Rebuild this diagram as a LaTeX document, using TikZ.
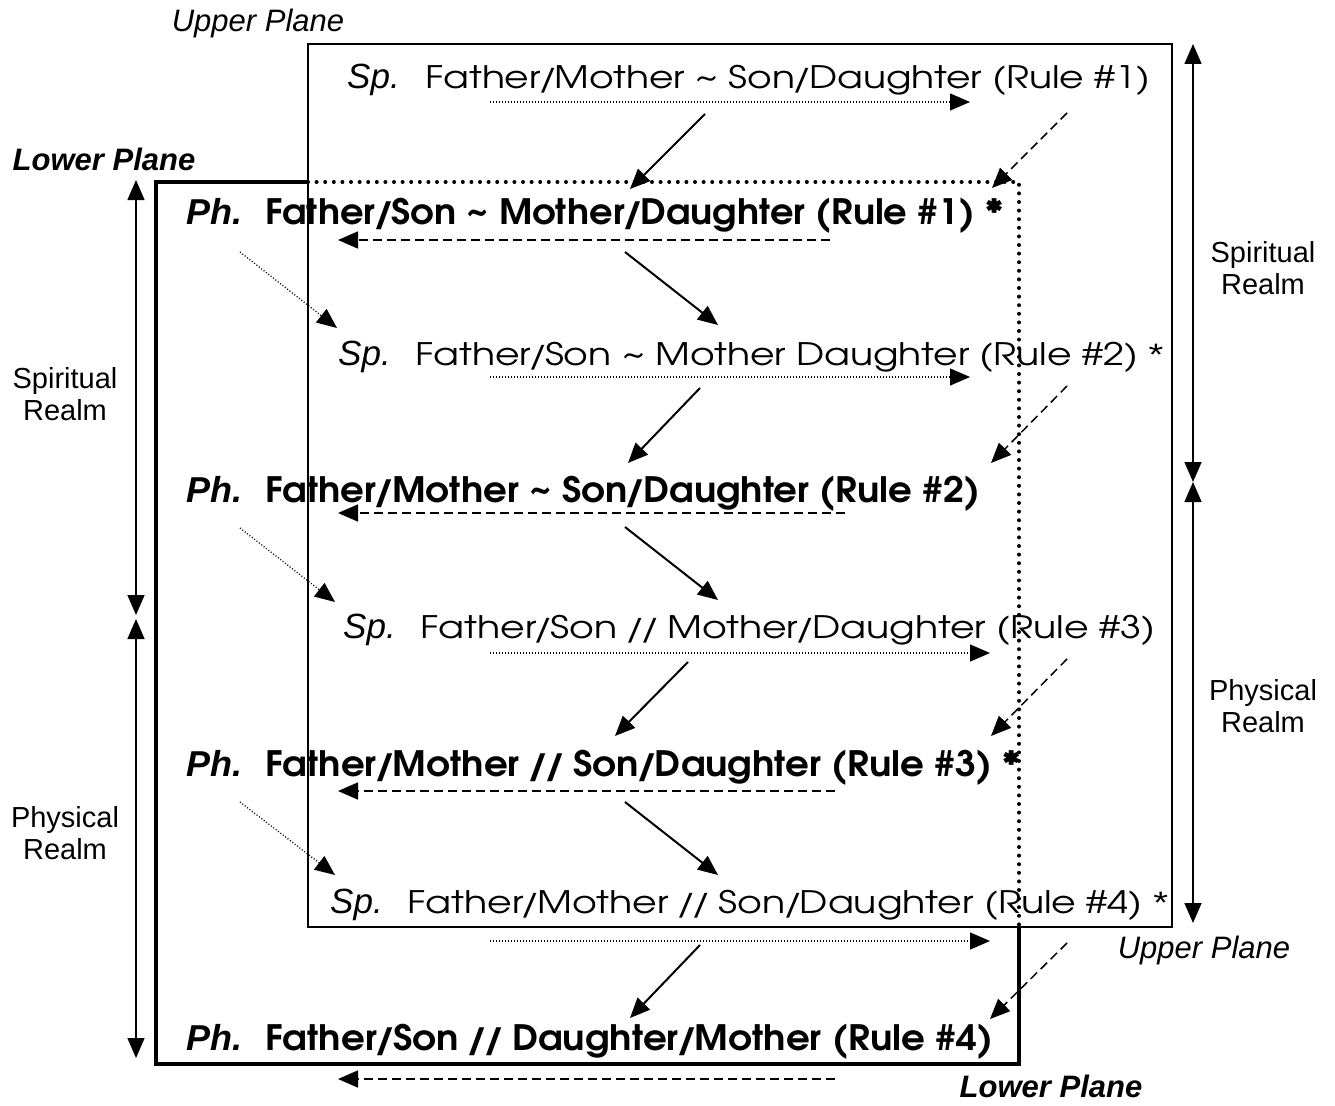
\documentclass[tikz,border=0pt]{standalone}
\usepackage{fontspec}
\usepackage{graphicx}
\setmainfont{Liberation Sans}
\newfontfamily\cgfont{texgyreadventor}[Extension=.otf,UprightFont=*-regular,BoldFont=*-bold,ItalicFont=*-italic,BoldItalicFont=*-bolditalic]
\newfontfamily\astfont{Liberation Sans}
\usetikzlibrary{arrows.meta}
\newcommand{\rowreg}[2]{\resizebox{#1}{\height}{\cgfont\fontsize{31}{36}\selectfont #2}}
\newcommand{\rowbold}[2]{\resizebox{#1}{\height}{\cgfont\bfseries\fontsize{35}{40}\selectfont #2}}
\newcommand{\tld}{\textasciitilde}
\newcommand{\sls}{\kern-0.07em/\kern-0.07em}
\newcommand{\dsl}{\kern-0.07em/\kern-0.12em/\kern-0.07em}
\newcommand{\thinast}{{\astfont *}}
\tikzset{
  tipstyle/.style={-{Triangle[length=20pt,width=17pt]}},
  bothtips/.style={{Triangle[length=20pt,width=17pt]}-{Triangle[length=20pt,width=17pt]}},
  thinbox/.style={line width=1.5pt},
  thickbox/.style={line width=3.5pt, line join=miter},
  dotbig/.style={line width=4pt, dash pattern=on 0pt off 8.6pt, line cap=round},
  dotarrow/.style={line width=1.2pt, dash pattern=on 1pt off 2pt, tipstyle},
  dasharrow/.style={line width=1.5pt, dash pattern=on 9pt off 5pt, tipstyle},
  solidarrow/.style={line width=2pt, tipstyle},
  dotdiag/.style={line width=1.3pt, dash pattern=on 1pt off 2pt, tipstyle},
  vertarrow/.style={line width=1.5pt, bothtips},
  txt/.style={anchor=base west, inner sep=0pt},
  sppre/.style={txt, font=\fontsize{35}{36}\selectfont\itshape},
  phpre/.style={txt, font=\fontsize{36}{38}\selectfont\bfseries\itshape},
  realm/.style={inner sep=0pt, align=center, font=\fontsize{29}{32}\selectfont},
  planeup/.style={anchor=base, inner sep=0pt, font=\fontsize{31}{32}\selectfont\itshape},
  planelow/.style={anchor=base, inner sep=0pt, font=\fontsize{31}{32}\selectfont\bfseries\itshape},
}
\begin{document}
\begin{tikzpicture}[x=1pt,y=-1pt]
\useasboundingbox (0,0) rectangle (1335,1105);

% upper plane box
\draw[thinbox] (308,44) rectangle (1172,927);
% lower plane box
\draw[thickbox] (308,182) -- (156,182) -- (156,1064) -- (1019,1064) -- (1019,927);
\draw[dotbig] (308,182) -- (1019,182) -- (1019,927);

% labels
\node[planeup] (upA) at (258,32) {Upper Plane};
\node[planelow] (lowA) at (104,170) {Lower Plane};
\node[planeup] (upB) at (1204,958) {Upper Plane};
\node[planelow] (lowB) at (1051,1097) {Lower Plane};
\node[realm] (srR) at (1263,268) {Spiritual\\Realm};
\node[realm] (prR) at (1263,706) {Physical\\Realm};
\node[realm] (srL) at (65,394) {Spiritual\\Realm};
\node[realm] (prL) at (65,833) {Physical\\Realm};

% realm arrows
\coordinate (rT) at (1193,44);
\coordinate (rM1) at (1193,482);
\coordinate (rM2) at (1193,482);
\coordinate (rB) at (1193,923);
\coordinate (lT) at (136,180);
\coordinate (lM1) at (136,615);
\coordinate (lM2) at (136,619);
\coordinate (lB) at (136,1058);
\draw[vertarrow] (rT) -- (rM1);
\draw[vertarrow] (rM2) -- (rB);
\draw[vertarrow] (lT) -- (lM1);
\draw[vertarrow] (lM2) -- (lB);

% rows
\node[sppre] (p1) at (347,89) {Sp.};
\node[txt] (t1) at (425,89) {\rowreg{725pt}{Father\sls Mother \tld{} Son\sls Daughter (Rule \#1)}};
\node[phpre] (p2) at (186,224) {Ph.};
\node[txt] (t2) at (265,224) {\rowbold{738pt}{Father\sls Son \tld{} Mother\sls Daughter (Rule \#1) *}};
\node[sppre] (p3) at (338,365) {Sp.};
\node[txt] (t3) at (415,365) {\rowreg{748pt}{Father\sls Son \tld{} Mother Daughter (Rule \#2) \thinast}};
\node[phpre] (p4) at (186,502) {Ph.};
\node[txt] (t4) at (265,502) {\rowbold{715pt}{Father\sls Mother \tld{} Son\sls Daughter (Rule \#2)}};
\node[sppre] (p5) at (343,638) {Sp.};
\node[txt] (t5) at (420,638) {\rowreg{735pt}{Father\sls Son \dsl{} Mother\sls Daughter (Rule \#3)}};
\node[phpre] (p6) at (186,776) {Ph.};
\node[txt] (t6) at (265,776) {\rowbold{756pt}{Father\sls Mother \dsl{} Son\sls Daughter (Rule \#3) *}};
\node[sppre] (p7) at (330,913) {Sp.};
\node[txt] (t7) at (407,913) {\rowreg{761pt}{Father\sls Mother \dsl{} Son\sls Daughter (Rule \#4) \thinast}};
\node[phpre] (p8) at (186,1050) {Ph.};
\node[txt] (t8) at (265,1050) {\rowbold{728pt}{Father\sls Son \dsl{} Daughter\sls Mother (Rule \#4)}};

% horizontal dotted arrows (Sp rows)
\coordinate (h1a) at (490,102); \coordinate (h1b) at (970,102);
\coordinate (h3a) at (490,377); \coordinate (h3b) at (970,377);
\coordinate (h5a) at (490,653); \coordinate (h5b) at (990,653);
\coordinate (h7a) at (490,941); \coordinate (h7b) at (990,941);
\foreach \i in {1,3,5,7} \draw[dotarrow] (h\i a) -- (h\i b);

% horizontal dashed arrows (Ph rows)
\coordinate (d2a) at (830,240); \coordinate (d2b) at (338,240);
\coordinate (d4a) at (845,513); \coordinate (d4b) at (338,513);
\coordinate (d6a) at (835,791); \coordinate (d6b) at (338,791);
\coordinate (d8a) at (835,1079); \coordinate (d8b) at (338,1079);
\foreach \i in {2,4,6,8} \draw[dasharrow] (d\i a) -- (d\i b);

% solid diagonals Sp -> Ph
\coordinate (s1a) at (705,114); \coordinate (s1b) at (630,189);
\coordinate (s3a) at (700,388); \coordinate (s3b) at (628,463);
\coordinate (s5a) at (688,662); \coordinate (s5b) at (615,736);
\coordinate (s7a) at (700,945); \coordinate (s7b) at (630,1018);
\foreach \i in {1,3,5,7} \draw[solidarrow] (s\i a) -- (s\i b);

% solid diagonals Ph -> Sp
\coordinate (u2a) at (625,252); \coordinate (u2b) at (718,325);
\coordinate (u4a) at (625,527); \coordinate (u4b) at (718,600);
\coordinate (u6a) at (625,802); \coordinate (u6b) at (718,875);
\foreach \i in {2,4,6} \draw[solidarrow] (u\i a) -- (u\i b);

% dashed diagonals
\coordinate (e1a) at (1067,113); \coordinate (e1b) at (992,188);
\coordinate (e3a) at (1067,386); \coordinate (e3b) at (991,463);
\coordinate (e5a) at (1067,659); \coordinate (e5b) at (991,736);
\coordinate (e7a) at (1067,943); \coordinate (e7b) at (990,1019);
\foreach \i in {1,3,5,7} \draw[dasharrow] (e\i a) -- (e\i b);

% dotted diagonals on the left
\coordinate (f2a) at (240,252); \coordinate (f2b) at (337,328);
\coordinate (f4a) at (240,528); \coordinate (f4b) at (335,602);
\coordinate (f6a) at (240,802); \coordinate (f6b) at (335,875);
\foreach \i in {2,4,6} \draw[dotdiag] (f\i a) -- (f\i b);
\end{tikzpicture}
\end{document}
